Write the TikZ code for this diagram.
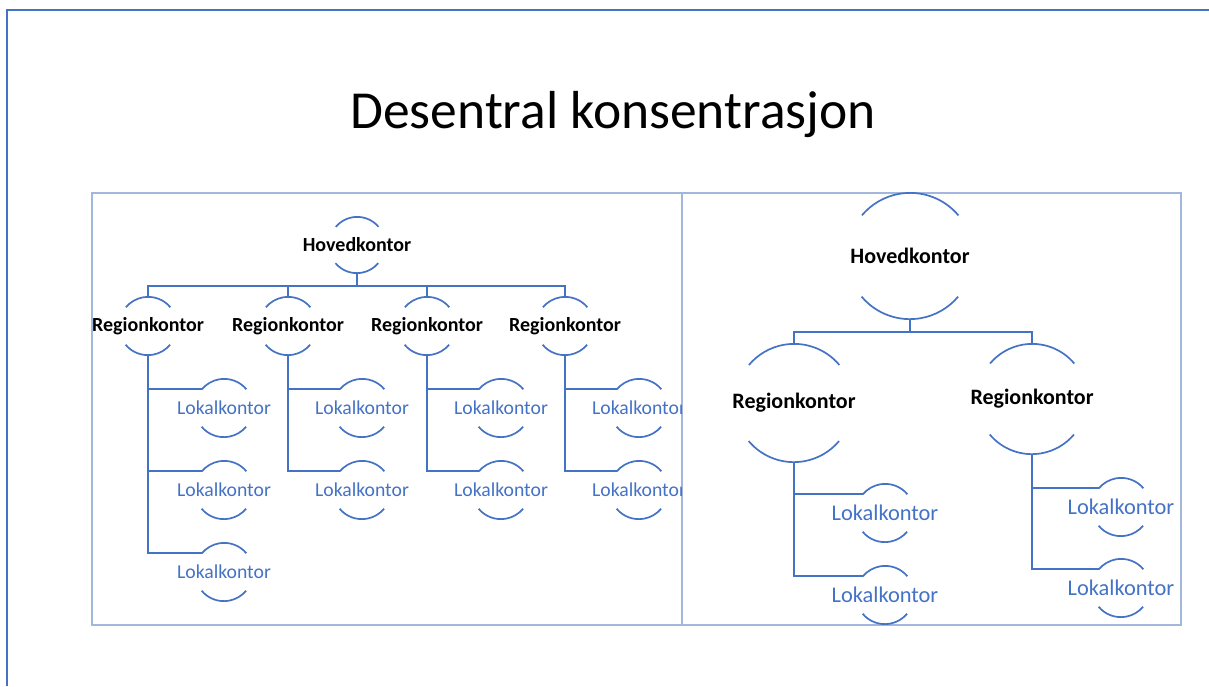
\documentclass[tikz,border=0pt]{standalone}
\usepackage{fontspec}
\setmainfont{Carlito}
\usetikzlibrary{positioning}
\definecolor{linje}{HTML}{4472C4}
\definecolor{ramme}{HTML}{A3B7DD}
\tikzset{
  kontor/.style={circle, inner sep=0pt, minimum size=#1},
  sjef/.style={font=\bfseries\fontsize{#1}{#1}\selectfont, text=black},
  lokal/.style={font=\fontsize{#1}{#1}\selectfont, text=linje},
  bue/.style={draw=linje, line width=1.7pt},
  gren/.style={draw=linje, line width=1.7pt},
}
% top and bottom arcs of a half circle box
\newcommand{\buer}[2]{%
  \draw[bue] (#1.40) arc[start angle=40, end angle=140, radius=#2];
  \draw[bue] (#1.220) arc[start angle=220, end angle=320, radius=#2];
}
\begin{document}
\begin{tikzpicture}[x=1pt, y=1pt]
\useasboundingbox (0,0) rectangle (1209,-686);

%Slide
\draw[linje, line width=2pt] (7,-686) -- (7,-10) -- (1209,-10);
\node[anchor=base, font=\fontsize{53.5}{60}\selectfont] (tittel) at (613,-128) {Desentral konsentrasjon};
\draw[ramme, line width=1.2pt] (92,-193) rectangle (1181,-625);
\draw[ramme, line width=1.2pt] (682,-193) -- (682,-625);

%Left chart
\begin{scope}
  \clip (92,-193) rectangle (681,-625);
  \node[kontor=56pt, label={[sjef=20]center:Hovedkontor}] (hL) at (357,-245) {};

  \foreach \x/\name in {148/rL1, 288/rL2, 427/rL3, 565/rL4}
      \node[kontor=58pt, label={[sjef=20]center:Regionkontor}] (\name) at (\x,-326) {};

  \foreach \pos/\name in {{(224,-408)/lL11}, {(224,-490)/lL12}, {(224,-572)/lL13},
                          {(362,-408)/lL21}, {(362,-490)/lL22},
                          {(501,-408)/lL31}, {(501,-490)/lL32},
                          {(639,-408)/lL41}, {(639,-490)/lL42}}
      \node[kontor=58pt, label={[lokal=19.7]center:Lokalkontor}] (\name) at \pos {};

  \foreach \name/\rad in {hL/28, rL1/29, rL2/29, rL3/29, rL4/29, lL11/29, lL12/29, lL13/29,
                          lL21/29, lL22/29, lL31/29, lL32/29, lL41/29, lL42/29}
      {\buer{\name}{\rad}}

  \foreach \dest in {rL1, rL2, rL3, rL4}
      \draw[gren] (hL.south) -- ++(0,-13) -| (\dest.north);
  \foreach \source/\dest in {rL1/lL11, rL1/lL12, rL1/lL13, rL2/lL21, rL2/lL22,
                             rL3/lL31, rL3/lL32, rL4/lL41, rL4/lL42}
      \draw[gren] (\source.south) |- (\dest.140);
\end{scope}

%Right chart
\node[kontor=126pt, label={[sjef=22]center:Hovedkontor}] (hR) at (910,-256) {};
\node[kontor=118pt, label={[sjef=22]center:Regionkontor}] (rR1) at (794,-403) {};
\node[kontor=110pt, label={[sjef=22]center:Regionkontor}] (rR2) at (1032,-399) {};

\foreach \pos/\name in {{(885,-513)/lR11}, {(885,-595)/lR12}, {(1121,-507)/lR21}, {(1121,-588)/lR22}}
    \node[kontor=58pt, label={[lokal=22.4]center:Lokalkontor}] (\name) at \pos {};

\foreach \name/\rad in {hR/63, rR1/59, rR2/55, lR11/29, lR12/29, lR21/29, lR22/29}
    {\buer{\name}{\rad}}

\foreach \dest in {rR1, rR2}
    \draw[gren] (hR.south) -- ++(0,-13) -| (\dest.north);
\foreach \source/\dest in {rR1/lR11, rR1/lR12, rR2/lR21, rR2/lR22}
    \draw[gren] (\source.south) |- (\dest.140);

\end{tikzpicture}
\end{document}
